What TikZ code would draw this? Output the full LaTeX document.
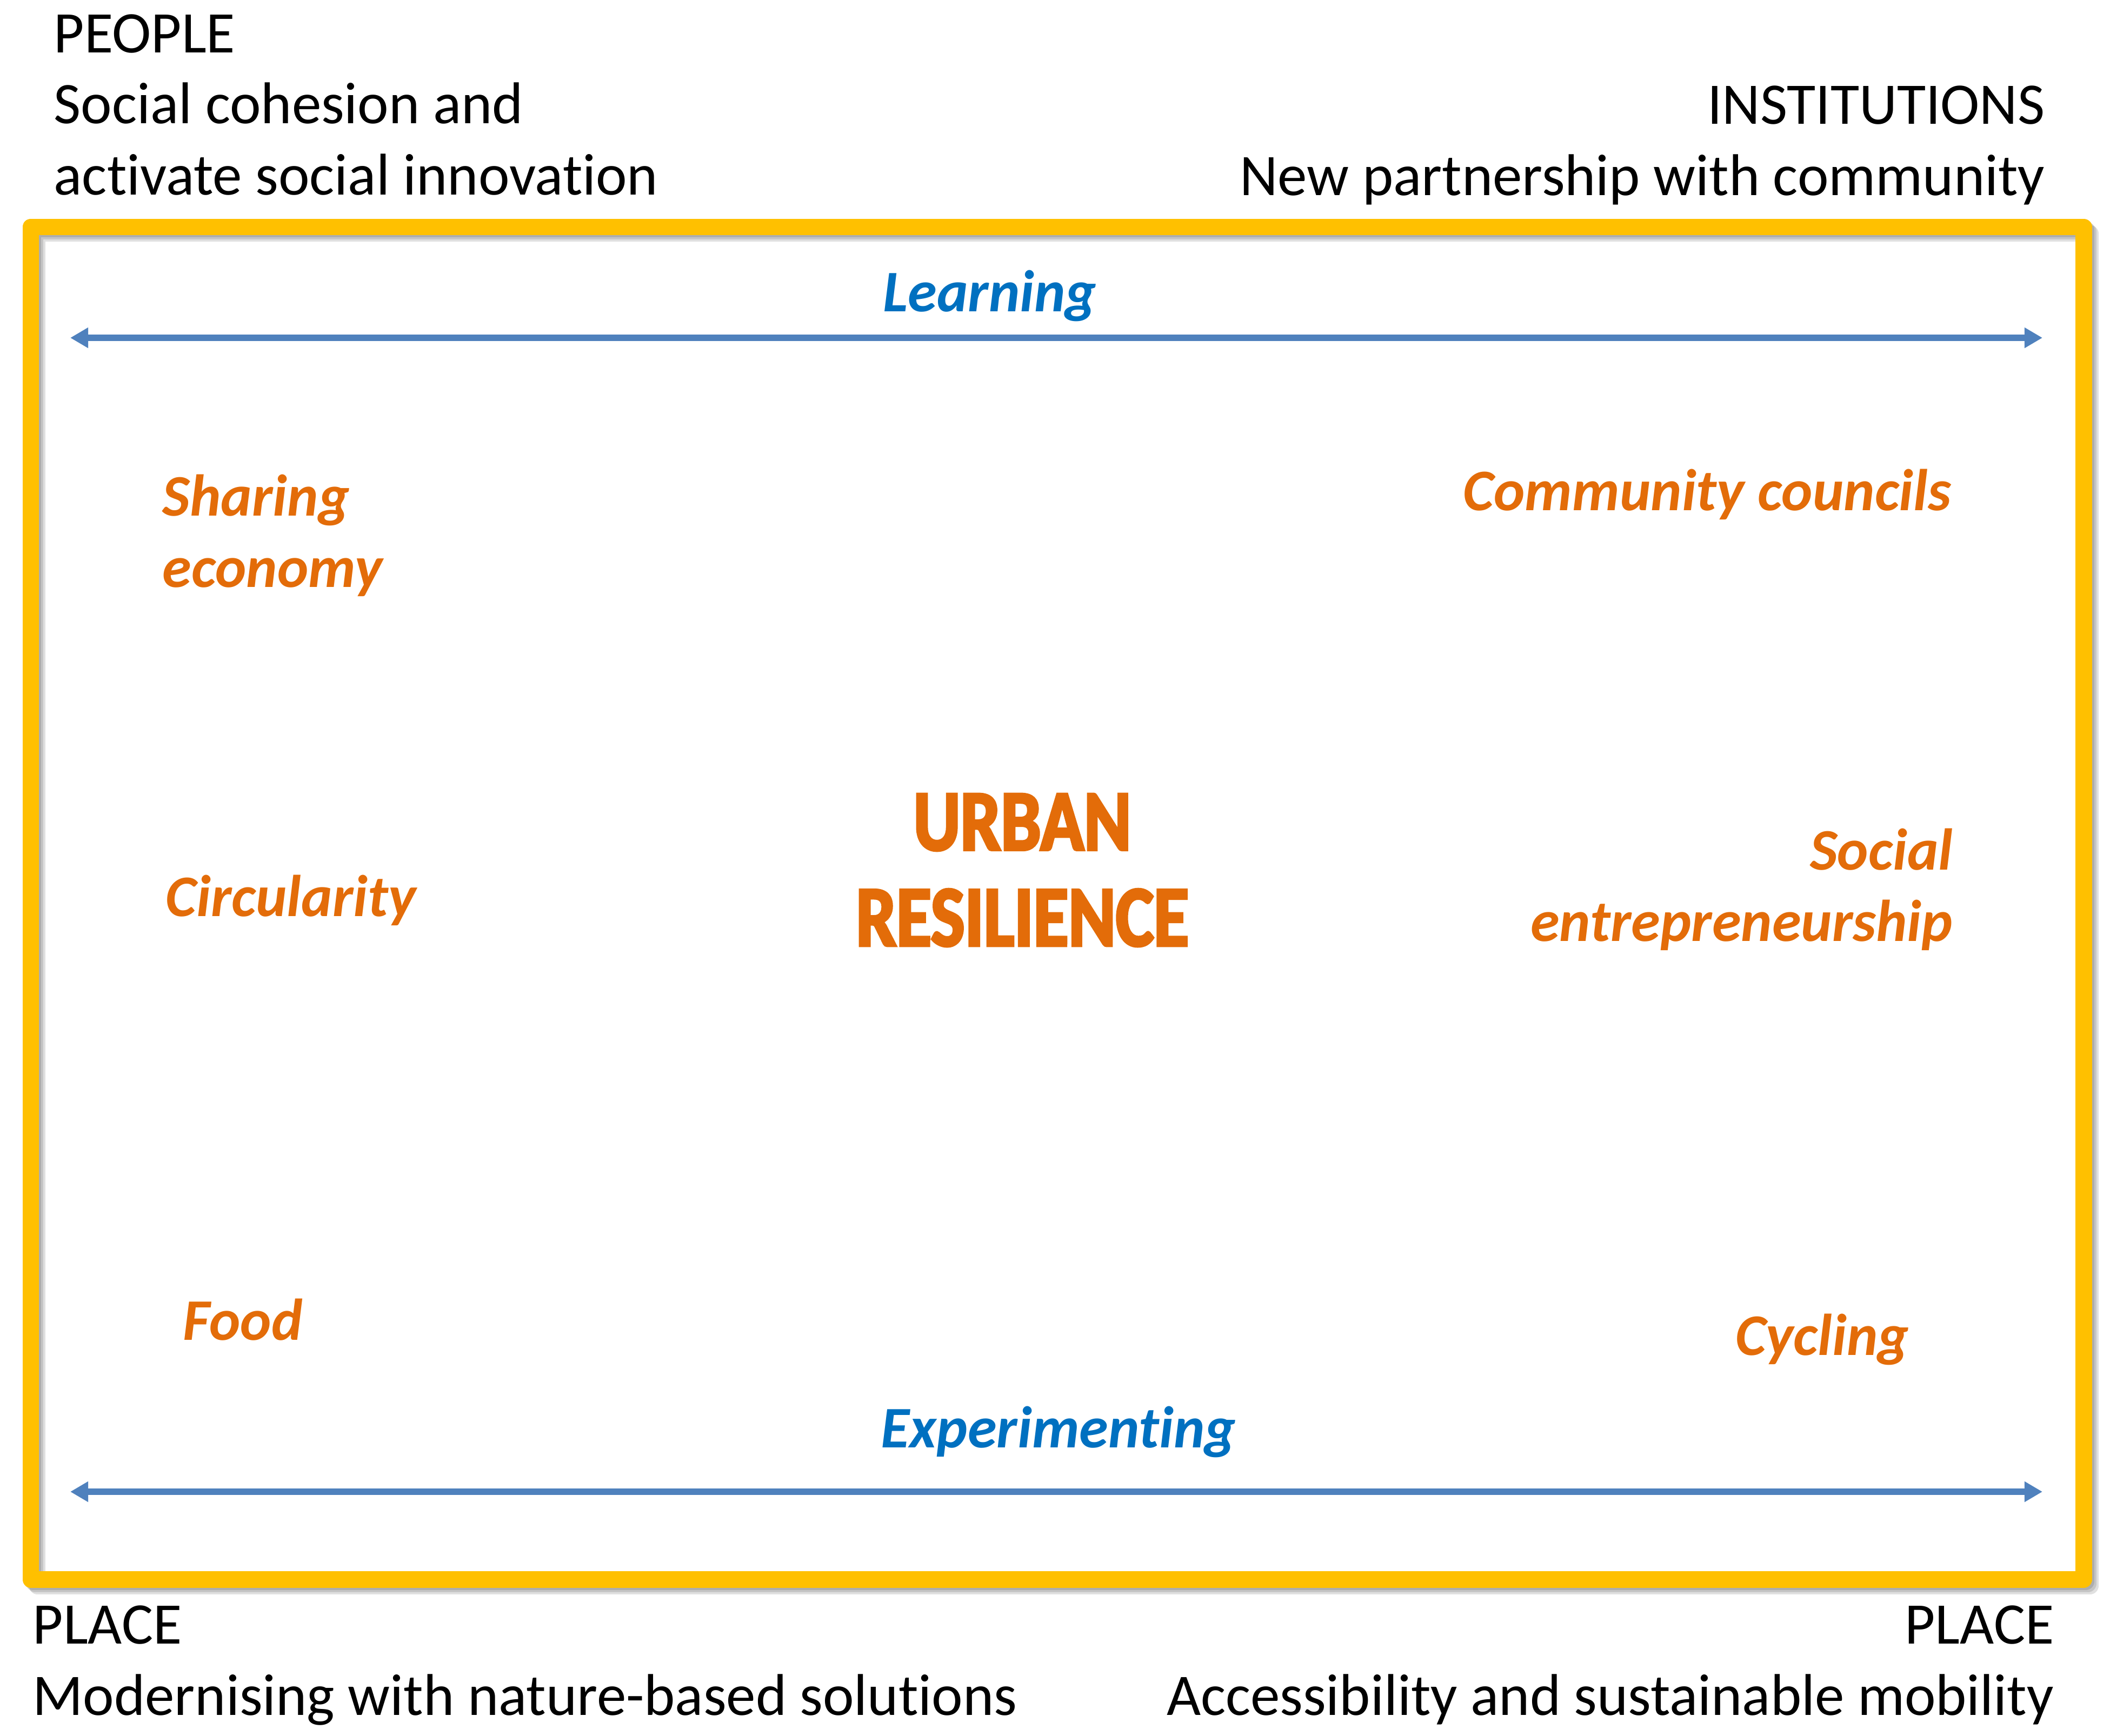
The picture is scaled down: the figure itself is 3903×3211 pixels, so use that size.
\documentclass[tikz,border=0pt]{standalone}
\usepackage{fontspec}
\setmainfont[Ligatures=NoCommon]{Carlito}
\newfontfamily\urbanfont[FakeStretch=0.83,FakeBold=3]{Carlito}
\usepackage{tikz}
\usetikzlibrary{arrows.meta}
\definecolor{frameyellow}{HTML}{FFC000}
\definecolor{arrowblue}{HTML}{4F81BD}
\definecolor{textblue}{HTML}{0070C0}
\definecolor{textorange}{HTML}{E36C09}
\tikzset{
	blacktext/.style={inner sep=0pt, font=\fontsize{31}{37.3}\selectfont},
	orangetext/.style={inner sep=0pt, text=textorange, font=\fontsize{31}{37.3}\selectfont\bfseries\itshape},
	bluetext/.style={inner sep=0pt, text=textblue, font=\fontsize{31}{37.3}\selectfont\bfseries\itshape},
	axisarrow/.style={arrowblue, line width=3.4pt, {Triangle[length=9.4pt,width=10.2pt]}-{Triangle[length=9.4pt,width=10.2pt]}},
}
\begin{document}
\begin{tikzpicture}[x=0.01cm, y=-0.01cm]
	\useasboundingbox (0,0) rectangle (3903,3211);
	%\draw[help lines, step=100] (0,0) grid (3903,3211);

	% frame with a soft shadow
	\foreach \s in {4,8,12}
		\draw[black, opacity=0.12, line width=8.8pt, line join=round] (57+\s,420+\s) rectangle (3854+\s,2922+\s);
	\draw[frameyellow][line width=8.8pt, line join=round] (57,420) rectangle (3854,2922);

	% axes
	\coordinate (learnL) at (130,625);
	\coordinate (learnR) at (3778,625);
	\coordinate (expL) at (130,2760);
	\coordinate (expR) at (3778,2760);
	\foreach \s in {4,8}
	{
		\draw[black, opacity=0.12, line width=3.4pt, shift={(\s,\s)}] ([xshift=0.3cm]learnL) -- ([xshift=-0.3cm]learnR);
		\draw[black, opacity=0.12, line width=3.4pt, shift={(\s,\s)}] ([xshift=0.3cm]expL) -- ([xshift=-0.3cm]expR);
	}
	\draw[axisarrow] (learnL) -- (learnR);
	\draw[axisarrow] (expL) -- (expR);
	\node[bluetext, anchor=base] (learn) at (1831,576) {Learning};
	\node[bluetext, anchor=base] (experiment) at (1958,2678) {Experimenting};

	% corner labels (base = last line)
	\node[blacktext, align=left, anchor=base west] (people) at (99,360) {PEOPLE\\Social cohesion and\\activate social innovation};
	\node[blacktext, align=right, anchor=base east] (institutions) at (3783,361) {INSTITUTIONS\\New partnership with community};
	\node[blacktext, align=left, anchor=base west] (placeL) at (60,3173) {PLACE\\Modernising with nature-based solutions};
	\node[blacktext, align=right, anchor=base east] (placeR) at (3800,3173) {PLACE\\Accessibility and sustainable mobility};

	% themes
	\node[orangetext, align=left, anchor=base west] (share) at (300,1086) {Sharing\\economy};
	\node[orangetext, anchor=base west] (circ) at (306,1695) {Circularity};
	\node[orangetext, anchor=base west] (food) at (338,2479) {Food};
	\node[orangetext, anchor=base east] (commun) at (3610,944) {Community councils};
	\node[orangetext, align=right, anchor=base east] (socent) at (3613,1741) {Social\\entrepreneurship};
	\node[orangetext, anchor=base east] (cycl) at (3532,2507) {Cycling};

	\node[inner sep=0pt, text=textorange, align=center, anchor=base, font=\urbanfont\bfseries\fontsize{45.5}{50.4}\selectfont] (urban) at (1891,1750) {URBAN\\RESILIENCE};
\end{tikzpicture}
\end{document}
